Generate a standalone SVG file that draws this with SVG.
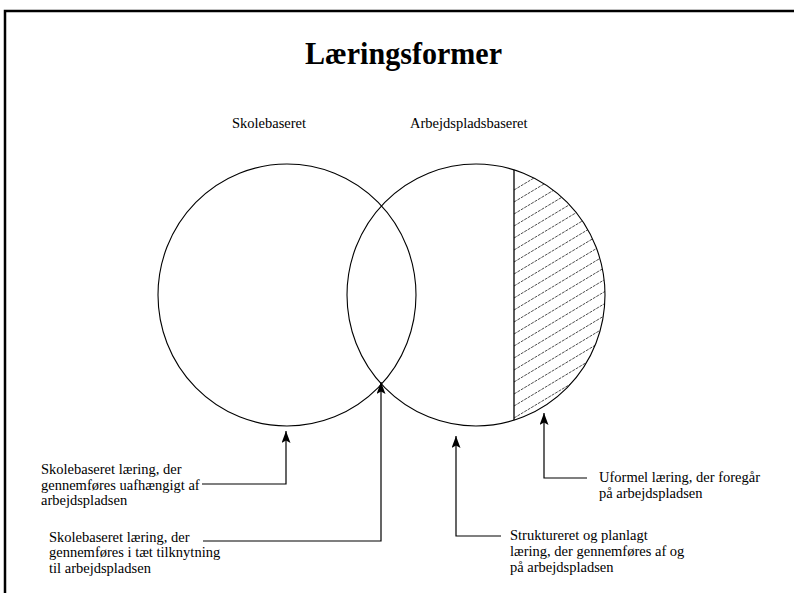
<svg xmlns="http://www.w3.org/2000/svg" width="794" height="593" viewBox="0 0 794 593">
<style>
.t{font-family:"Liberation Serif","Times New Roman",serif;font-size:14.5px;fill:#000}
.c{fill:none;stroke:#000;stroke-width:1.1}
.conn{fill:none;stroke:#000;stroke-width:1.2;marker-end:url(#arr)}
.hatch{fill:none;stroke:#000;stroke-width:0.7;stroke-dasharray:3 1}
</style>
<defs>
<marker id="arr" markerUnits="userSpaceOnUse" markerWidth="14" markerHeight="10" refX="12" refY="4.5" orient="auto">
<path d="M0,0 L12,4.5 L0,9 L2.5,4.5 Z" fill="#000"/>
</marker>
<clipPath id="hclip">
<path d="M514,169.8 L514,420.2 A129,131 0 0 0 514,169.8 Z"/>
</clipPath>
</defs>
<rect x="0" y="0" width="794" height="593" fill="#fff"/>
<rect x="5" y="11" width="800" height="600" fill="none" stroke="#000" stroke-width="2.5"/>
<text x="305" y="64" font-family="Liberation Serif,'Times New Roman',serif" font-weight="bold" font-size="32" textLength="197" lengthAdjust="spacingAndGlyphs">Læringsformer</text>
<g id="school">
<ellipse class="c" cx="287" cy="295" rx="129" ry="131"/>
<text class="t" x="232" y="128">Skolebaseret</text>
</g>
<g id="work">
<ellipse class="c" cx="476" cy="295" rx="129" ry="131"/>
<text class="t" x="410" y="128">Arbejdspladsbaseret</text>
<g clip-path="url(#hclip)">
<path class="hatch" d="M514,190 L620,126.4 M514,202 L620,138.4 M514,214 L620,150.4 M514,226 L620,162.4 M514,238 L620,174.4 M514,250 L620,186.4 M514,262 L620,198.4 M514,274 L620,210.4 M514,286 L620,222.4 M514,298 L620,234.4 M514,310 L620,246.4 M514,322 L620,258.4 M514,334 L620,270.4 M514,346 L620,282.4 M514,358 L620,294.4 M514,370 L620,306.4 M514,382 L620,318.4 M514,394 L620,330.4 M514,406 L620,342.4 M514,418 L620,354.4"/>
</g>
<line x1="514" y1="169.8" x2="514" y2="420.2" stroke="#000" stroke-width="1.3"/>
</g>
<g id="label1">
<text class="t" x="41" y="474">Skolebaseret læring, der</text>
<text class="t" x="41" y="489.5">gennemføres uafhængigt af</text>
<text class="t" x="41" y="505">arbejdspladsen</text>
</g>
<g id="label2">
<text class="t" x="49" y="541.5">Skolebaseret læring, der</text>
<text class="t" x="49" y="557">gennemføres i tæt tilknytning</text>
<text class="t" x="49" y="572.5">til arbejdspladsen</text>
</g>
<g id="label3">
<text class="t" x="510" y="540">Struktureret og planlagt</text>
<text class="t" x="510" y="556">læring, der gennemføres af og</text>
<text class="t" x="510" y="572">på arbejdspladsen</text>
</g>
<g id="label4">
<text class="t" x="599" y="482">Uformel læring, der foregår</text>
<text class="t" x="599" y="498">på arbejdspladsen</text>
</g>
<g id="connectors">
<path class="conn" d="M202,484 H286 V431"/>
<path class="conn" d="M203,541 H381 V382"/>
<path class="conn" d="M501,536 H456 V436"/>
<path class="conn" d="M587,478 H544 V413"/>
</g>
</svg>
